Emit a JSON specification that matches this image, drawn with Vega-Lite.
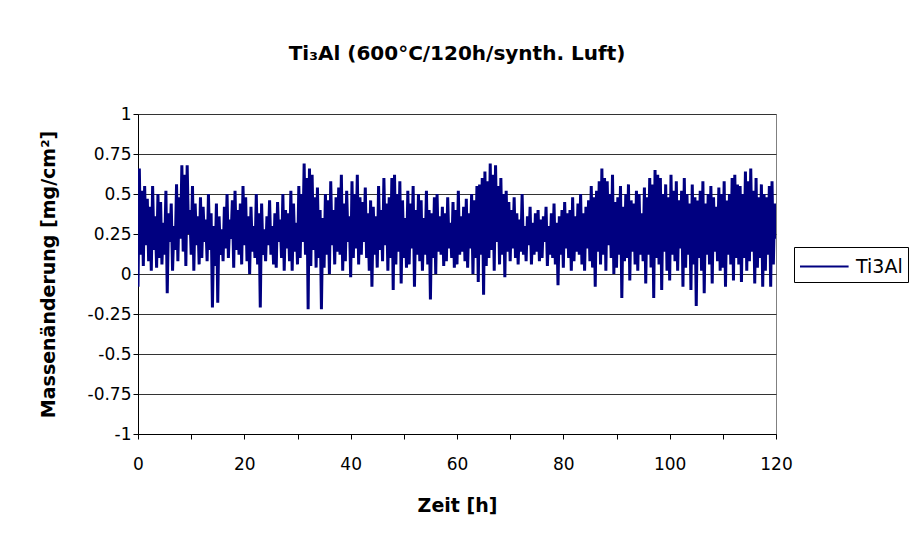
{
  "$schema": "https://vega.github.io/schema/vega-lite/v6.json",
  "autosize": {"type": "none"},
  "padding": {"left": 138, "top": 114, "right": 133, "bottom": 110},
  "width": 638,
  "height": 320,
  "background": "white",
  "config": {
    "font": "DejaVu Sans",
    "view": {"stroke": "#808080", "strokeWidth": 1}
  },
  "title": {
    "text": "Ti₃Al (600°C/120h/synth. Luft)",
    "font": "DejaVu Sans",
    "fontSize": 20,
    "fontWeight": "bold",
    "color": "black",
    "anchor": "middle",
    "offset": 41
  },
  "data": {
    "values": [
{"t":0,"v":-0.08},{"t":0.25,"v":0.66},{"t":0.5,"v":0.12},{"t":0.75,"v":0.52},
{"t":1,"v":0.05},{"t":1.25,"v":0.55},{"t":1.5,"v":0.18},{"t":1.75,"v":0.47},
{"t":2,"v":0.08},{"t":2.25,"v":0.42},{"t":2.5,"v":0.02},{"t":2.75,"v":0.55},
{"t":3,"v":0.15},{"t":3.25,"v":0.36},{"t":3.5,"v":0.04},{"t":3.75,"v":0.5},
{"t":4,"v":0.1},{"t":4.25,"v":0.45},{"t":4.5,"v":0.06},{"t":4.75,"v":0.32},
{"t":5,"v":0.12},{"t":5.25,"v":0.52},{"t":5.5,"v":-0.12},{"t":5.75,"v":0.38},
{"t":6,"v":0.2},{"t":6.25,"v":0.44},{"t":6.5,"v":0.02},{"t":6.75,"v":0.3},
{"t":7,"v":0.15},{"t":7.25,"v":0.56},{"t":7.5,"v":0.08},{"t":7.75,"v":0.48},
{"t":8,"v":0.22},{"t":8.25,"v":0.68},{"t":8.5,"v":0.14},{"t":8.75,"v":0.62},
{"t":9,"v":0.05},{"t":9.25,"v":0.68},{"t":9.5,"v":0.25},{"t":9.75,"v":0.4},
{"t":10,"v":0.12},{"t":10.25,"v":0.55},{"t":10.5,"v":0.02},{"t":10.75,"v":0.44},
{"t":11,"v":0.18},{"t":11.25,"v":0.36},{"t":11.5,"v":0.06},{"t":11.75,"v":0.48},
{"t":12,"v":0.1},{"t":12.25,"v":0.42},{"t":12.5,"v":0.2},{"t":12.75,"v":0.34},
{"t":13,"v":0.08},{"t":13.25,"v":0.5},{"t":13.5,"v":0.15},{"t":13.75,"v":0.38},
{"t":14,"v":-0.21},{"t":14.25,"v":0.3},{"t":14.5,"v":0.05},{"t":14.75,"v":0.44},
{"t":15,"v":-0.18},{"t":15.25,"v":0.36},{"t":15.5,"v":0.12},{"t":15.75,"v":0.28},
{"t":16,"v":0.08},{"t":16.25,"v":0.42},{"t":16.5,"v":0.16},{"t":16.75,"v":0.5},
{"t":17,"v":0.1},{"t":17.25,"v":0.34},{"t":17.5,"v":0.22},{"t":17.75,"v":0.46},
{"t":18,"v":0.04},{"t":18.25,"v":0.52},{"t":18.5,"v":0.15},{"t":18.75,"v":0.4},
{"t":19,"v":0.12},{"t":19.25,"v":0.44},{"t":19.5,"v":0.06},{"t":19.75,"v":0.55},
{"t":20,"v":0.18},{"t":20.25,"v":0.48},{"t":20.5,"v":0.08},{"t":20.75,"v":0.36},
{"t":21,"v":0.0},{"t":21.25,"v":0.42},{"t":21.5,"v":0.14},{"t":21.75,"v":0.3},
{"t":22,"v":0.1},{"t":22.25,"v":0.5},{"t":22.5,"v":0.06},{"t":22.75,"v":0.38},
{"t":23,"v":-0.21},{"t":23.25,"v":0.44},{"t":23.5,"v":0.12},{"t":23.75,"v":0.28},
{"t":24,"v":0.08},{"t":24.25,"v":0.36},{"t":24.5,"v":0.18},{"t":24.75,"v":0.46},
{"t":25,"v":0.12},{"t":25.25,"v":0.3},{"t":25.5,"v":0.06},{"t":25.75,"v":0.38},
{"t":26,"v":0.04},{"t":26.25,"v":0.45},{"t":26.5,"v":0.2},{"t":26.75,"v":0.34},
{"t":27,"v":0.1},{"t":27.25,"v":0.5},{"t":27.5,"v":0.02},{"t":27.75,"v":0.4},
{"t":28,"v":0.16},{"t":28.25,"v":0.38},{"t":28.5,"v":0.08},{"t":28.75,"v":0.52},
{"t":29,"v":0.02},{"t":29.25,"v":0.44},{"t":29.5,"v":0.14},{"t":29.75,"v":0.32},
{"t":30,"v":0.06},{"t":30.25,"v":0.55},{"t":30.5,"v":0.1},{"t":30.75,"v":0.5},
{"t":31,"v":0.2},{"t":31.25,"v":0.69},{"t":31.5,"v":0.12},{"t":31.75,"v":0.6},
{"t":32,"v":-0.22},{"t":32.25,"v":0.66},{"t":32.5,"v":0.05},{"t":32.75,"v":0.62},
{"t":33,"v":0.15},{"t":33.25,"v":0.48},{"t":33.5,"v":0.04},{"t":33.75,"v":0.54},
{"t":34,"v":0.1},{"t":34.25,"v":0.4},{"t":34.5,"v":-0.22},{"t":34.75,"v":0.35},
{"t":35,"v":0.04},{"t":35.25,"v":0.5},{"t":35.5,"v":0.12},{"t":35.75,"v":0.46},
{"t":36,"v":0.0},{"t":36.25,"v":0.58},{"t":36.5,"v":0.18},{"t":36.75,"v":0.4},
{"t":37,"v":0.06},{"t":37.25,"v":0.48},{"t":37.5,"v":0.14},{"t":37.75,"v":0.54},
{"t":38,"v":0.12},{"t":38.25,"v":0.62},{"t":38.5,"v":0.02},{"t":38.75,"v":0.44},
{"t":39,"v":0.08},{"t":39.25,"v":0.52},{"t":39.5,"v":0.2},{"t":39.75,"v":0.36},
{"t":40,"v":-0.02},{"t":40.25,"v":0.58},{"t":40.5,"v":0.1},{"t":40.75,"v":0.5},
{"t":41,"v":0.16},{"t":41.25,"v":0.62},{"t":41.5,"v":0.06},{"t":41.75,"v":0.48},
{"t":42,"v":0.12},{"t":42.25,"v":0.45},{"t":42.5,"v":0.2},{"t":42.75,"v":0.54},
{"t":43,"v":0.1},{"t":43.25,"v":0.38},{"t":43.5,"v":0.02},{"t":43.75,"v":0.46},
{"t":44,"v":-0.08},{"t":44.25,"v":0.42},{"t":44.5,"v":0.12},{"t":44.75,"v":0.36},
{"t":45,"v":0.04},{"t":45.25,"v":0.55},{"t":45.5,"v":0.15},{"t":45.75,"v":0.4},
{"t":46,"v":0.08},{"t":46.25,"v":0.6},{"t":46.5,"v":0.18},{"t":46.75,"v":0.44},
{"t":47,"v":0.02},{"t":47.25,"v":0.48},{"t":47.5,"v":0.1},{"t":47.75,"v":0.6},
{"t":48,"v":-0.1},{"t":48.25,"v":0.62},{"t":48.5,"v":0.06},{"t":48.75,"v":0.5},
{"t":49,"v":0.14},{"t":49.25,"v":0.58},{"t":49.5,"v":-0.06},{"t":49.75,"v":0.46},
{"t":50,"v":0.1},{"t":50.25,"v":0.35},{"t":50.5,"v":0.04},{"t":50.75,"v":0.52},
{"t":51,"v":0.06},{"t":51.25,"v":0.44},{"t":51.5,"v":0.16},{"t":51.75,"v":0.55},
{"t":52,"v":-0.08},{"t":52.25,"v":0.4},{"t":52.5,"v":0.12},{"t":52.75,"v":0.5},
{"t":53,"v":0.08},{"t":53.25,"v":0.46},{"t":53.5,"v":0.02},{"t":53.75,"v":0.35},
{"t":54,"v":0.12},{"t":54.25,"v":0.52},{"t":54.5,"v":0.06},{"t":54.75,"v":0.4},
{"t":55,"v":-0.16},{"t":55.25,"v":0.38},{"t":55.5,"v":0.1},{"t":55.75,"v":0.48},
{"t":56,"v":0.0},{"t":56.25,"v":0.5},{"t":56.5,"v":0.14},{"t":56.75,"v":0.36},
{"t":57,"v":0.12},{"t":57.25,"v":0.42},{"t":57.5,"v":0.05},{"t":57.75,"v":0.38},
{"t":58,"v":0.08},{"t":58.25,"v":0.48},{"t":58.5,"v":0.16},{"t":58.75,"v":0.32},
{"t":59,"v":0.1},{"t":59.25,"v":0.45},{"t":59.5,"v":0.04},{"t":59.75,"v":0.4},
{"t":60,"v":0.06},{"t":60.25,"v":0.52},{"t":60.5,"v":0.12},{"t":60.75,"v":0.36},
{"t":61,"v":0.14},{"t":61.25,"v":0.42},{"t":61.5,"v":0.08},{"t":61.75,"v":0.47},
{"t":62,"v":0.04},{"t":62.25,"v":0.38},{"t":62.5,"v":0.16},{"t":62.75,"v":0.5},
{"t":63,"v":0.0},{"t":63.25,"v":0.46},{"t":63.5,"v":0.1},{"t":63.75,"v":0.55},
{"t":64,"v":-0.05},{"t":64.25,"v":0.56},{"t":64.5,"v":0.12},{"t":64.75,"v":0.6},
{"t":65,"v":-0.13},{"t":65.25,"v":0.64},{"t":65.5,"v":0.05},{"t":65.75,"v":0.58},
{"t":66,"v":0.1},{"t":66.25,"v":0.69},{"t":66.5,"v":0.15},{"t":66.75,"v":0.62},
{"t":67,"v":0.02},{"t":67.25,"v":0.68},{"t":67.5,"v":0.2},{"t":67.75,"v":0.55},
{"t":68,"v":0.06},{"t":68.25,"v":0.6},{"t":68.5,"v":0.12},{"t":68.75,"v":0.5},
{"t":69,"v":-0.02},{"t":69.25,"v":0.52},{"t":69.5,"v":0.14},{"t":69.75,"v":0.45},
{"t":70,"v":0.08},{"t":70.25,"v":0.4},{"t":70.5,"v":0.16},{"t":70.75,"v":0.48},
{"t":71,"v":0.1},{"t":71.25,"v":0.38},{"t":71.5,"v":0.06},{"t":71.75,"v":0.34},
{"t":72,"v":0.14},{"t":72.25,"v":0.5},{"t":72.5,"v":0.12},{"t":72.75,"v":0.3},
{"t":73,"v":0.08},{"t":73.25,"v":0.36},{"t":73.5,"v":0.18},{"t":73.75,"v":0.42},
{"t":74,"v":0.06},{"t":74.25,"v":0.32},{"t":74.5,"v":0.12},{"t":74.75,"v":0.38},
{"t":75,"v":0.14},{"t":75.25,"v":0.4},{"t":75.5,"v":0.08},{"t":75.75,"v":0.34},
{"t":76,"v":0.1},{"t":76.25,"v":0.36},{"t":76.5,"v":0.2},{"t":76.75,"v":0.42},
{"t":77,"v":0.05},{"t":77.25,"v":0.3},{"t":77.5,"v":0.12},{"t":77.75,"v":0.38},
{"t":78,"v":0.1},{"t":78.25,"v":0.44},{"t":78.5,"v":0.06},{"t":78.75,"v":0.32},
{"t":79,"v":-0.07},{"t":79.25,"v":0.36},{"t":79.5,"v":0.12},{"t":79.75,"v":0.4},
{"t":80,"v":0.04},{"t":80.25,"v":0.45},{"t":80.5,"v":0.16},{"t":80.75,"v":0.38},
{"t":81,"v":0.1},{"t":81.25,"v":0.4},{"t":81.5,"v":0.02},{"t":81.75,"v":0.48},
{"t":82,"v":0.08},{"t":82.25,"v":0.36},{"t":82.5,"v":0.14},{"t":82.75,"v":0.44},
{"t":83,"v":0.12},{"t":83.25,"v":0.5},{"t":83.5,"v":0.06},{"t":83.75,"v":0.38},
{"t":84,"v":0.02},{"t":84.25,"v":0.42},{"t":84.5,"v":0.16},{"t":84.75,"v":0.46},
{"t":85,"v":0.08},{"t":85.25,"v":0.55},{"t":85.5,"v":0.04},{"t":85.75,"v":0.48},
{"t":86,"v":-0.08},{"t":86.25,"v":0.52},{"t":86.5,"v":0.14},{"t":86.75,"v":0.58},
{"t":87,"v":0.06},{"t":87.25,"v":0.66},{"t":87.5,"v":0.12},{"t":87.75,"v":0.6},
{"t":88,"v":0.02},{"t":88.25,"v":0.58},{"t":88.5,"v":0.18},{"t":88.75,"v":0.5},
{"t":89,"v":0.1},{"t":89.25,"v":0.62},{"t":89.5,"v":0.0},{"t":89.75,"v":0.45},
{"t":90,"v":0.04},{"t":90.25,"v":0.48},{"t":90.5,"v":0.12},{"t":90.75,"v":0.55},
{"t":91,"v":-0.15},{"t":91.25,"v":0.42},{"t":91.5,"v":0.08},{"t":91.75,"v":0.5},
{"t":92,"v":0.1},{"t":92.25,"v":0.56},{"t":92.5,"v":-0.04},{"t":92.75,"v":0.46},
{"t":93,"v":0.14},{"t":93.25,"v":0.44},{"t":93.5,"v":0.06},{"t":93.75,"v":0.52},
{"t":94,"v":0.02},{"t":94.25,"v":0.5},{"t":94.5,"v":0.12},{"t":94.75,"v":0.38},
{"t":95,"v":0.08},{"t":95.25,"v":0.54},{"t":95.5,"v":-0.06},{"t":95.75,"v":0.48},
{"t":96,"v":0.12},{"t":96.25,"v":0.6},{"t":96.5,"v":0.04},{"t":96.75,"v":0.56},
{"t":97,"v":-0.15},{"t":97.25,"v":0.65},{"t":97.5,"v":0.1},{"t":97.75,"v":0.62},
{"t":98,"v":0.06},{"t":98.25,"v":0.6},{"t":98.5,"v":-0.1},{"t":98.75,"v":0.5},
{"t":99,"v":0.14},{"t":99.25,"v":0.56},{"t":99.5,"v":0.02},{"t":99.75,"v":0.48},
{"t":100,"v":-0.04},{"t":100.25,"v":0.62},{"t":100.5,"v":0.12},{"t":100.75,"v":0.52},
{"t":101,"v":0.08},{"t":101.25,"v":0.58},{"t":101.5,"v":0.02},{"t":101.75,"v":0.46},
{"t":102,"v":0.16},{"t":102.25,"v":0.52},{"t":102.5,"v":-0.08},{"t":102.75,"v":0.6},
{"t":103,"v":0.04},{"t":103.25,"v":0.5},{"t":103.5,"v":0.12},{"t":103.75,"v":0.44},
{"t":104,"v":-0.1},{"t":104.25,"v":0.56},{"t":104.5,"v":0.06},{"t":104.75,"v":0.48},
{"t":105,"v":-0.2},{"t":105.25,"v":0.46},{"t":105.5,"v":0.1},{"t":105.75,"v":0.52},
{"t":106,"v":0.02},{"t":106.25,"v":0.58},{"t":106.5,"v":-0.12},{"t":106.75,"v":0.44},
{"t":107,"v":0.12},{"t":107.25,"v":0.5},{"t":107.5,"v":0.06},{"t":107.75,"v":0.55},
{"t":108,"v":-0.06},{"t":108.25,"v":0.48},{"t":108.5,"v":0.14},{"t":108.75,"v":0.42},
{"t":109,"v":0.08},{"t":109.25,"v":0.54},{"t":109.5,"v":0.02},{"t":109.75,"v":0.5},
{"t":110,"v":0.04},{"t":110.25,"v":0.58},{"t":110.5,"v":-0.08},{"t":110.75,"v":0.46},
{"t":111,"v":0.12},{"t":111.25,"v":0.5},{"t":111.5,"v":0.06},{"t":111.75,"v":0.6},
{"t":112,"v":-0.04},{"t":112.25,"v":0.62},{"t":112.5,"v":0.1},{"t":112.75,"v":0.56},
{"t":113,"v":0.06},{"t":113.25,"v":0.55},{"t":113.5,"v":-0.05},{"t":113.75,"v":0.5},
{"t":114,"v":0.1},{"t":114.25,"v":0.64},{"t":114.5,"v":0.02},{"t":114.75,"v":0.58},
{"t":115,"v":0.08},{"t":115.25,"v":0.66},{"t":115.5,"v":0.14},{"t":115.75,"v":0.52},
{"t":116,"v":-0.06},{"t":116.25,"v":0.6},{"t":116.5,"v":0.04},{"t":116.75,"v":0.48},
{"t":117,"v":0.1},{"t":117.25,"v":0.56},{"t":117.5,"v":-0.08},{"t":117.75,"v":0.5},
{"t":118,"v":0.02},{"t":118.25,"v":0.48},{"t":118.5,"v":0.12},{"t":118.75,"v":0.55},
{"t":119,"v":-0.08},{"t":119.25,"v":0.58},{"t":119.5,"v":0.06},{"t":119.75,"v":0.44},
{"t":120,"v":0.22}
    ]
  },
  "transform": [{"calculate": "'Ti3Al'", "as": "series"}],
  "mark": {"type": "line", "strokeWidth": 3, "clip": true},
  "encoding": {
    "x": {
      "field": "t",
      "type": "quantitative",
      "scale": {"domain": [0, 120], "nice": false, "zero": false},
      "axis": {
        "title": "Zeit [h]",
        "titleFont": "DejaVu Sans",
        "titleFontSize": 19,
        "titleFontWeight": "bold",
        "titleColor": "black",
        "titlePadding": 24,
        "values": [0, 10, 20, 30, 40, 50, 60, 70, 80, 90, 100, 110, 120],
        "labelExpr": "datum.value % 20 === 0 ? datum.label : ''",
        "labelFont": "DejaVu Sans",
        "labelFontSize": 17,
        "labelColor": "black",
        "labelPadding": 17,
        "labelFlush": false,
        "labelOverlap": false,
        "tickColor": "black",
        "tickSize": 5,
        "domainColor": "black",
        "domainWidth": 1,
        "grid": false
      }
    },
    "y": {
      "field": "v",
      "type": "quantitative",
      "scale": {"domain": [-1, 1], "nice": false},
      "axis": {
        "title": "Massenänderung [mg/cm²]",
        "titleFont": "DejaVu Sans",
        "titleFontSize": 19,
        "titleFontWeight": "bold",
        "titleColor": "black",
        "titlePadding": 29,
        "values": [-1, -0.75, -0.5, -0.25, 0, 0.25, 0.5, 0.75, 1],
        "labelExpr": "'' + datum.value",
        "labelFont": "DejaVu Sans",
        "labelFontSize": 17,
        "labelColor": "black",
        "labelPadding": 2,
        "labelFlush": false,
        "labelOverlap": false,
        "tickColor": "black",
        "tickSize": 5,
        "domainColor": "black",
        "grid": true,
        "gridColor": "#333333",
        "gridWidth": 1,
        "gridOpacity": 1
      }
    },
    "color": {
      "field": "series",
      "type": "nominal",
      "scale": {"range": ["#000080"]},
      "legend": {
        "title": null,
        "orient": "none",
        "legendX": 656,
        "legendY": 133,
        "symbolType": "M-1,0H2.6",
        "symbolSize": 729,
        "symbolStrokeWidth": 2,
        "labelFont": "DejaVu Sans",
        "labelFontSize": 19,
        "labelColor": "black",
        "labelOffset": 28,
        "strokeColor": "black",
        "padding": 5,
        "fillColor": "white"
      }
    }
  }
}
